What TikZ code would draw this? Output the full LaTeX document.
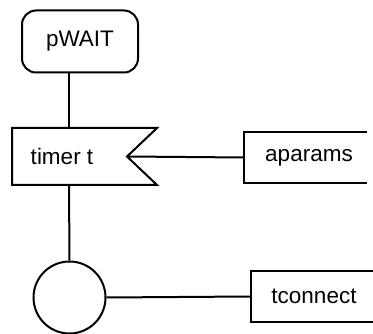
\documentclass[tikz,border=0pt]{standalone}
\usepackage{fontspec}
\setmainfont{Liberation Sans}
\usetikzlibrary{positioning,calc}

\begin{document}
\begin{tikzpicture}[x=1pt,y=-1pt,line width=2pt,
    font=\fontsize{22.5}{26}\selectfont,
    label/.style={inner sep=0pt},
    procbox/.style={draw,rounded corners=14pt,minimum width=116pt,minimum height=62pt},
    joint/.style={draw,circle,minimum size=72pt,inner sep=0pt},
    portbox/.style={inner sep=0pt,minimum height=49pt,anchor=west}]
  \useasboundingbox (0,0) rectangle (373,334);
  \node[procbox] (pwait) at (80,41.5) {pWAIT};
  \node[label] (timer) at (62,156.5) {timer t};
  \coordinate (ttop) at (69,128);
  \coordinate (tbot) at (69,185);
  \coordinate (notch) at (127,156.5);
  \draw (12,128) -- (157,128) -- (notch) -- (157,185) -- (12,185) -- cycle;
  \node[portbox,minimum width=121pt] (aparams) at (244,157.5) {\hspace*{7pt}aparams};
  \draw (aparams.north east) -- (aparams.north west) -- (aparams.south west) -- (aparams.south east);
  \node[joint] (circ) at (69.5,297.5) {};
  \node[portbox,minimum width=124pt] (tconnect) at (251,296.5) {tconnect};
  \draw (tconnect.north east) -- (tconnect.north west) -- (tconnect.south west) -- (tconnect.south east);
  \draw (pwait.south -| ttop) -- (ttop);
  \draw (notch) -- (aparams.west);
  \draw (tbot) -- (circ.north);
  \draw (circ.east) -- (tconnect.west);
\end{tikzpicture}
\end{document}
